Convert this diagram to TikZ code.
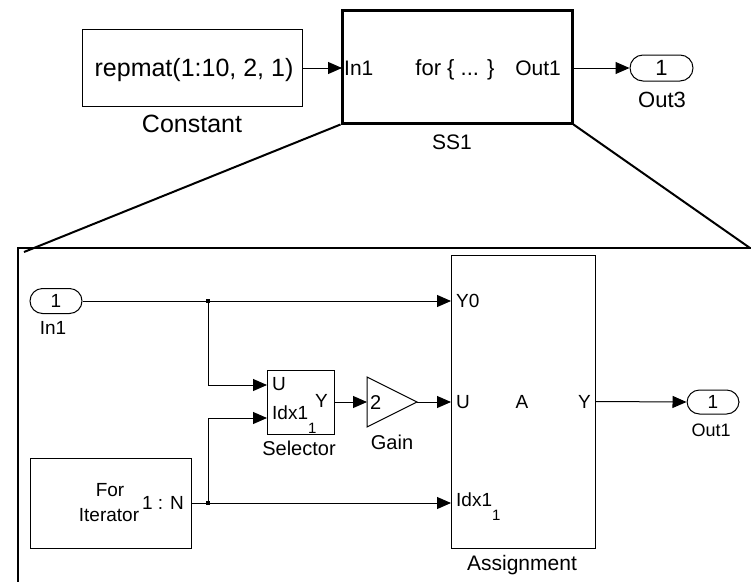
\documentclass[tikz,border=0pt]{standalone}
\usepackage{fontspec}
\setmainfont{Liberation Sans}
\usetikzlibrary{arrows.meta,calc}
\tikzset{
  blk/.style={draw, line width=1pt, inner sep=0pt},
  oval/.style={draw, line width=1pt, rounded corners=12.5pt, inner sep=0pt},
  conn/.style={line width=1pt, -{Triangle[length=14pt,width=12pt]}},
  txt/.style={inner sep=0pt, text depth=0pt},
  fs/.style={font=\fontsize{#1}{#1}\selectfont, text height=0.716*#1 pt},
  topfont/.style={fs=21},
  bigfont/.style={fs=25},
  infont/.style={fs=19},
  lblfont/.style={fs=20},
  jdot/.style={fill, rectangle, minimum size=4.5pt, inner sep=0pt},
}
\newcommand{\subone}{\raisebox{-0.7em}{\fontsize{15}{15}\selectfont 1}}
\begin{document}
\begin{tikzpicture}[x=1pt,y=-1pt]
\useasboundingbox (0,0) rectangle (751,581);
\clip (0,0) rectangle (751,581);
% ---------- top level ----------
\node[blk, minimum width=220pt, minimum height=77pt] (const) at (192,67.5) {};
\node[txt, bigfont] (consttxt) at (194,68) {repmat(1:10, 2, 1)};
\node[txt, bigfont] (constlbl) at (192,124) {Constant};
\node[draw, line width=3pt, inner sep=0pt, minimum width=230pt, minimum height=113pt] (ss1) at (457,66.5) {};
\node[txt, topfont, anchor=west] (ss1in) at (344,68) {In1};
\node[txt, fs=22] (ss1for) at (455,68) {for \{ ... \}};
\node[txt, topfont, anchor=east] (ss1out) at (561,68) {Out1};
\node[txt, topfont] (ss1lbl) at (452,142) {SS1};
\node[oval, rounded corners=13pt, minimum width=63pt, minimum height=26pt] (out3) at (661.5,68) {};
\node[txt, fs=22] (out3num) at (661.5,68) {1};
\node[txt, fs=22] (out3lbl) at (662,100) {Out3};
\coordinate (ss1inp) at (342,68);
\coordinate (ss1outp) at (572,68);
\draw[conn] (const.east |- ss1inp) -- (ss1inp);
\draw[conn] (ss1outp) -- (out3.west);
% zoom lines
\coordinate (zl) at (24,252);
\coordinate (zr) at (750,248);
\draw[line width=2pt] (ss1.south west) -- (zl);
\draw[line width=2pt] (ss1.south east) -- (zr);
\draw[line width=2pt] (18,248) rectangle (760,600);
% ---------- inside ----------
\node[oval, minimum width=52pt, minimum height=25pt] (in1) at (56,301) {};
\node[txt, infont] (in1num) at (56,301) {1};
\node[txt, infont] (in1lbl) at (53,328) {In1};
% selector
\node[blk, minimum width=67pt, minimum height=64pt] (sel) at (300.5,402) {};
\coordinate (selU) at (267,385);
\coordinate (selI) at (267,418);
\node[txt, infont, anchor=west] (selUt) at (272,384) {U};
\node[txt, infont, anchor=west] (selIt) at (272,413) {Idx1\subone};
\node[txt, infont, anchor=east] (selYt) at (328,401) {Y};
\node[txt, lblfont] (sellbl) at (299,448) {Selector};
% gain
\coordinate (gin) at (367,402);
\coordinate (gout) at (417,402);
\draw[line width=1pt, line join=miter] (367,377) -- (gout) -- (367,427) -- cycle;
\node[txt, fs=20, anchor=west] (gaintxt) at (370,402) {2};
\node[txt, lblfont] (gainlbl) at (392,442) {Gain};
% assignment
\node[blk, minimum width=144pt, minimum height=293pt] (asg) at (523,401.5) {};
\coordinate (asgY0) at (451,301);
\coordinate (asgU) at (451,402);
\coordinate (asgI) at (451,503);
\node[txt, infont, anchor=west] (asgY0t) at (456,301) {Y0};
\node[txt, infont, anchor=west] (asgUt) at (456,402) {U};
\node[txt, infont] (asgAt) at (522,402) {A};
\node[txt, infont, anchor=east] (asgYt) at (591,402) {Y};
\node[txt, infont, anchor=west] (asgIt) at (456,500) {Idx1\subone};
\node[txt, fs=21] (asglbl) at (522,563) {Assignment};
% for iterator
\node[blk, minimum width=161pt, minimum height=90pt] (iter) at (110.5,503) {};
\node[txt, infont] (iterfor) at (110,490) {For};
\node[txt, infont] (iterit) at (109,515) {Iterator};
\node[txt, infont] (itern) at (163,503) {1 : N};
% out1
\node[oval, minimum width=52pt, minimum height=24pt] (out1) at (713,402) {};
\node[txt, infont] (out1num) at (713,402) {1};
\node[txt, fs=18] (out1lbl) at (711,430) {Out1};
% junctions
\node[jdot] (j1) at (208,301) {};
\node[jdot] (j2) at (208,503) {};
% connectors
\draw[conn] (in1.east) -- (asgY0);
\draw[conn] (j1.center) |- (selU);
\draw[conn] (iter.east) -- (asgI);
\draw[conn] (j2.center) |- (selI);
\draw[conn] (sel.east) -- (gin);
\draw[conn] (gout) -- (asgU);
\draw[conn] (asg.east) -- (out1.west);
\end{tikzpicture}
\end{document}
